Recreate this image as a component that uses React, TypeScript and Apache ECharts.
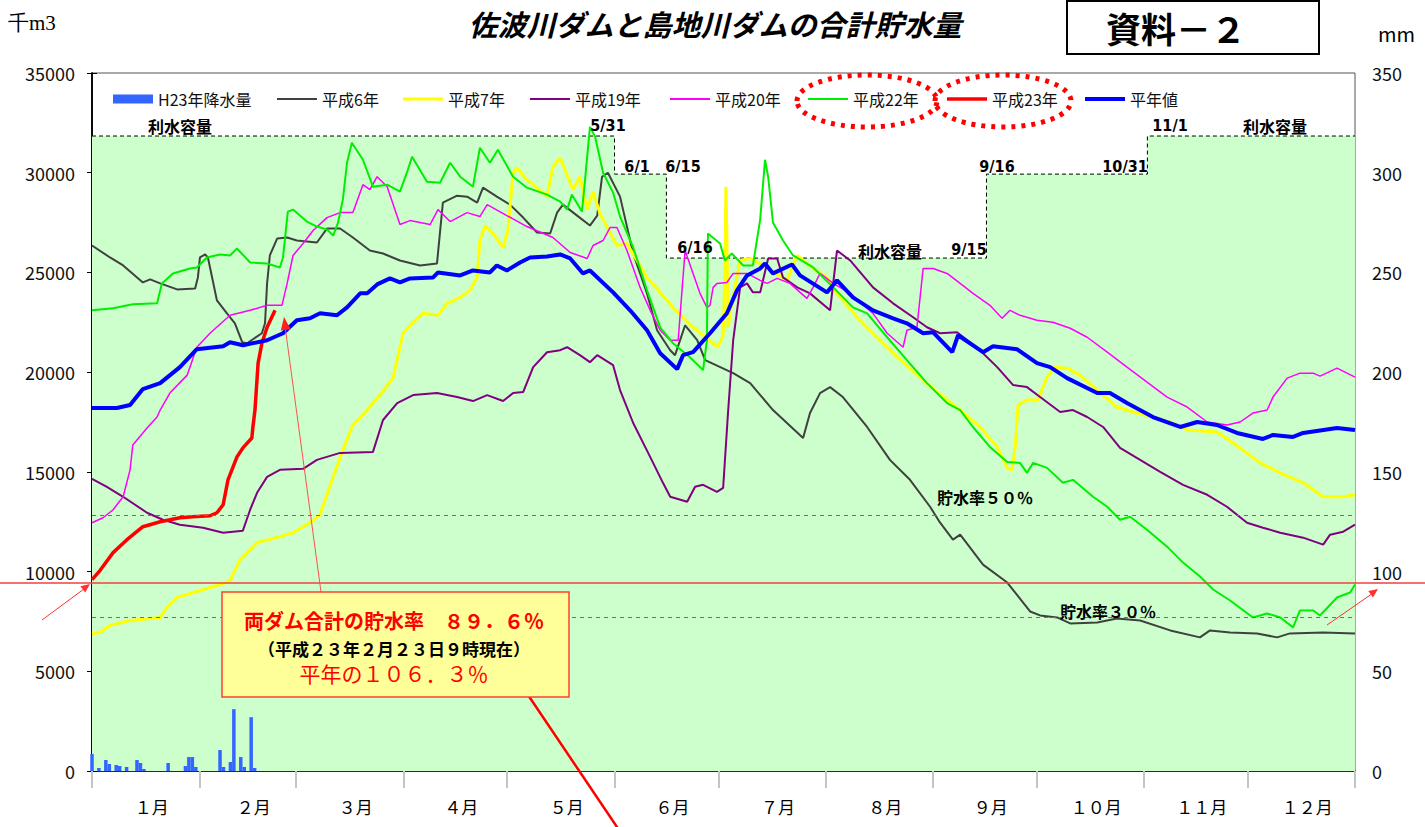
import React, { useEffect, useRef } from "react";
import * as echarts from "echarts";

// ---------- data ----------
const MONTH_LABELS = ["１月", "２月", "３月", "４月", "５月", "６月", "７月", "８月", "９月", "１０月", "１１月", "１２月"];
const MONTH_STARTS = [0, 31, 59, 90, 120, 151, 181, 212, 243, 273, 304, 334, 365];
const MONTH_MIDS = [15.5, 45, 74.5, 105, 135.5, 166, 196.5, 227.5, 258, 288.5, 319, 349.5];

// 利水容量 (千m3), step boundaries by day of year
const CAPACITY: [number, number][] = [
  [0, 31840], [151, 31840], [151, 29930], [166, 29930], [166, 25720],
  [258.5, 25720], [258.5, 29930], [305, 29930], [305, 31840], [365, 31840],
];
const RATE_50 = 12840;
const RATE_30 = 7720;
const CURRENT_LEVEL = 9430;

// H23 daily precipitation (mm), day 0 = Jan 1
const PRECIP_H23 = [
  8.5, 0, 1.5, 0, 5.5, 3.5, 0, 3, 2.5, 0, 2, 0, 0, 5.5, 4, 1, 0, 0, 0, 0,
  0, 0, 4, 0, 0, 0, 0, 2.5, 7, 7, 2, 0, 0, 0, 0, 0, 0, 10.5, 2, 0,
  4.5, 31, 0, 7, 2, 0, 27, 1.5, 0, 0, 0, 0, 0, 0,
];

const H6: [number, number][] = [
  [0, 26350], [5.2, 25750], [9, 25350], [14.7, 24500], [16.8, 24650], [19.7, 24450], [24.6, 24150], [29.8, 24200],
  [30.6, 24750], [31.2, 25750], [32.7, 25900], [33.5, 25750], [36.1, 23600], [39, 22950], [41.3, 22450], [43.4, 21500],
  [44.8, 21450], [46.5, 21650], [49.1, 21950], [50, 22450], [50.6, 24450], [51.4, 25850], [53.5, 26700], [56.4, 26750],
  [59.2, 26600], [65, 26500], [67.9, 27200], [71.7, 27200], [75.4, 26750], [80.3, 26100], [84.1, 25950], [89, 25600],
  [94.8, 25350], [99.7, 25450], [101.4, 28500], [105.5, 28850], [108.4, 28800], [111.3, 28500], [113, 29250], [117, 28800],
  [120.8, 28400], [124.6, 27750], [128.6, 27000], [132.4, 26950], [134.4, 28000], [136.1, 28400], [140.2, 27850], [143.9, 27350],
  [146, 27850], [147.4, 29800], [149.1, 30000], [152.6, 28800], [156.4, 25950], [160.4, 23950], [163.3, 22100], [167.1, 21100],
  [168.5, 20850], [171.4, 22350], [174.9, 21600], [177.2, 20600], [185.3, 19950], [190.2, 19450], [196.8, 18100], [205.5, 16700],
  [207.5, 17950], [210.4, 18950], [213.3, 19250], [217, 18750], [224, 17250], [230.6, 15600], [236.4, 14600], [242.2, 13250],
  [245.1, 12450], [248.8, 11600], [250.9, 11850], [257.5, 10350], [264.5, 9450], [271.1, 8000], [274, 7800], [278.9, 7700],
  [282.7, 7400], [290.5, 7450], [296.2, 7650], [302.9, 7550], [311.6, 7050], [320.2, 6700], [323.1, 7050], [328.9, 6950],
  [336.7, 6900], [342.5, 6700], [346.2, 6900], [355.8, 6950], [365, 6900],
];

const H7: [number, number][] = [
  [0, 6900], [2.3, 6950], [5.2, 7300], [11, 7550], [19.7, 7700], [21.7, 8200], [24.6, 8700], [30.3, 9000],
  [36.1, 9300], [39.9, 9550], [42.8, 10600], [47.7, 11450], [54.3, 11750], [58.1, 11950], [63, 12450], [65.9, 12850],
  [67.9, 13850], [69.7, 14750], [72.5, 16100], [75.4, 17350], [79.5, 18100], [83.2, 18850], [87, 19700], [89, 21250],
  [89.9, 21950], [92.8, 22500], [95.7, 22950], [100, 22850], [102.6, 23450], [106.4, 23750], [109.2, 24100], [111.3, 24750],
  [112.1, 26600], [113.6, 27350], [115.9, 26950], [118.8, 26250], [120.2, 27100], [121.7, 30000], [122.8, 30250], [125.7, 29650],
  [128.6, 29250], [131.5, 28800], [133.2, 30300], [135.3, 30750], [139, 29150], [141, 29800], [143.1, 28150], [144.8, 29050],
  [146.8, 27950], [151.7, 26350], [154.6, 26450], [160.4, 24750], [167.9, 23250], [173.7, 22250], [176.6, 21850], [180.9, 21250],
  [182.4, 21850], [182.9, 24950], [183.2, 29300], [183.5, 26650], [183.8, 22250], [184.4, 22950], [187.3, 25600], [190.2, 25700],
  [195.1, 25250], [200.9, 24600], [203.8, 25850], [208.4, 25200], [212.4, 24750], [215.3, 23950], [221.1, 22750], [225.7, 21950],
  [232.7, 20750], [240.2, 19600], [247.1, 18600], [250.9, 18100], [256.6, 17250], [261.6, 16250], [264.5, 15200], [265.9, 15100],
  [266.8, 16250], [267.6, 18350], [270.2, 18600], [273.4, 18600], [276, 19750], [278.3, 20250], [281.8, 20200], [285.5, 19850],
  [290.5, 19100], [296.2, 18250], [300.9, 18000], [306.6, 17750], [312.4, 17450], [316.5, 17100], [325.1, 17000], [329.8, 16450],
  [337.6, 15450], [343.4, 14950], [350, 14450], [355.8, 13750], [361.6, 13750], [365, 13850],
];

const H19: [number, number][] = [
  [0, 14650], [4.3, 14250], [9, 13750], [15.9, 12950], [20.5, 12600], [25.4, 12350], [32.1, 12200], [37.9, 11950],
  [43.6, 12050], [45.7, 13100], [47.7, 13950], [50.6, 14750], [54.3, 15100], [61, 15150], [65, 15600], [71.7, 15950],
  [81.2, 16000], [84.1, 17600], [88.2, 18450], [92.8, 18850], [99.7, 18950], [105.5, 18750], [110.1, 18550], [114.2, 18850],
  [118.8, 18550], [121.7, 18950], [124.6, 19000], [127.5, 20250], [131.5, 21000], [135.3, 21100], [137.3, 21250], [141, 20850],
  [143.9, 20500], [146, 20850], [150.6, 20350], [152.6, 19100], [156.4, 17450], [161.3, 15750], [165, 14450], [167.1, 13750],
  [172, 13500], [174.3, 14250], [176.6, 14350], [180.6, 14000], [182.4, 14200], [183.8, 17950], [185.3, 21600], [187.3, 24250],
  [189.3, 24450], [191, 24000], [193.1, 24000], [195.4, 25700], [198, 25700], [199.7, 24750], [203.8, 24250], [207.5, 23950],
  [213.3, 23100], [215.3, 26100], [219.1, 25600], [225.7, 24250], [231.5, 23450], [237.3, 22750], [241.3, 22250], [245.1, 21950],
  [250, 22000], [256.6, 21100], [261.6, 20250], [266.2, 19350], [270.2, 19250], [274, 18750], [279.8, 18000], [283.5, 18100],
  [287.6, 17750], [292.2, 17250], [297.1, 16200], [302.9, 15600], [308.7, 15000], [315.3, 14350], [322.3, 13850], [328, 13250],
  [333.8, 12450], [338.4, 12200], [343.4, 11950], [350, 11700], [355.8, 11350], [357.8, 11850], [361.6, 12000], [365, 12350],
];

const H20: [number, number][] = [
  [0, 12450], [3.2, 12700], [6.1, 13100], [9, 13750], [11, 15100], [11.8, 16350], [15.9, 17200], [18.8, 17750],
  [19.7, 18100], [22.5, 18950], [27.5, 19850], [30.3, 21250], [34.1, 21950], [39.9, 22850], [45.7, 23100], [50.6, 23350],
  [54.9, 23350], [56.4, 24450], [58.1, 25850], [61, 26450], [63.9, 27100], [67.9, 27750], [71.7, 28000], [75.4, 28000],
  [78.3, 29400], [80.3, 29150], [82.4, 29800], [85.3, 29300], [89, 27400], [91.9, 27600], [97.7, 27400], [100, 28150],
  [103.5, 27550], [108.4, 28000], [112.1, 27800], [114.2, 28400], [119.9, 27850], [125.7, 27300], [133.2, 26750], [138.2, 26000],
  [143.1, 25700], [144.8, 26350], [147.7, 26600], [149.7, 27250], [151.7, 27250], [154.6, 26100], [158.4, 24250], [161.3, 23100],
  [164.2, 22100], [167.1, 21600], [169.4, 21600], [171.4, 26100], [173.7, 24950], [175.7, 23950], [177.7, 23250], [178.6, 23350],
  [179.5, 24250], [180.6, 24450], [183.5, 24500], [185.3, 24950], [189.3, 24950], [193.1, 24600], [195.1, 24450], [198, 24700],
  [201.7, 24450], [206.6, 23700], [208.4, 24250], [210.4, 24950], [214.2, 24450], [219.1, 23950], [225.7, 22950], [229.8, 21950],
  [234.4, 21250], [235.5, 22100], [238.4, 22250], [240.2, 25200], [243.1, 25200], [247.1, 24950], [250.9, 24450], [254.6, 23950],
  [259.5, 23350], [263, 22700], [265.3, 23100], [268.2, 22850], [273.1, 22600], [277.7, 22500], [282.7, 22200], [287.6, 21750],
  [293.4, 21000], [299.1, 20250], [304.9, 19500], [310.7, 18750], [316.5, 18250], [322.3, 17500], [328, 17350], [331.8, 17500],
  [335.5, 17950], [339.6, 18100], [341.3, 18750], [345.4, 19700], [349.1, 19950], [352.9, 19950], [354.9, 19800], [359.8, 20200],
  [365, 19750],
];

const H22: [number, number][] = [
  [0, 23100], [6.1, 23200], [11.8, 23400], [18.8, 23450], [20.2, 24450], [23.4, 24950], [28.3, 25200], [30.3, 25250],
  [33.2, 25750], [37, 25900], [39.9, 25850], [41.9, 26200], [45.7, 25500], [50.6, 25450], [54.3, 25250], [55.2, 25750],
  [56.6, 28050], [58.1, 28150], [62.1, 27550], [65, 27300], [67.9, 27150], [69.7, 26850], [71.1, 27500], [72.5, 28650],
  [73.7, 30500], [75.1, 31500], [78.3, 30650], [81.2, 29300], [85.3, 29400], [89, 29050], [91, 30000], [92.5, 30800],
  [96.8, 29550], [100.6, 29500], [103.5, 30500], [106.4, 29800], [110.1, 29300], [112.1, 31250], [115, 30500], [117.3, 31150],
  [121.7, 29800], [125.7, 29250], [131.5, 28900], [135.3, 28550], [137.3, 28150], [138.7, 28900], [141.6, 28050], [142.5, 29650],
  [143.9, 32300], [145.4, 31800], [147.7, 30000], [150.6, 29000], [152.6, 27800], [156.4, 26250], [160.4, 24100], [164.2, 22250],
  [167.9, 21450], [172.8, 20750], [176.6, 20100], [177.7, 21600], [178, 26950], [181.5, 26450], [182.9, 25600], [184.9, 25950],
  [188.2, 25350], [191, 25350], [193.1, 27650], [194.5, 30650], [195.4, 29800], [196.8, 27500], [199.7, 26600], [202.6, 25850],
  [208.4, 25250], [214.2, 24250], [219.9, 23250], [224, 22950], [229.8, 21750], [235.5, 20600], [241.3, 19450], [247.1, 18450],
  [250.9, 18100], [254.6, 17250], [259.5, 16250], [264.5, 15500], [268.2, 15450], [270.2, 14950], [272, 15450], [276, 15200],
  [280.6, 14450], [283.5, 14600], [289.3, 13750], [293.4, 13250], [297.1, 12600], [300, 12750], [304.9, 12100], [310.7, 11250],
  [315.3, 10450], [320.2, 9750], [324, 9100], [328.9, 8550], [335.5, 7700], [339.6, 7900], [343.4, 7700], [347.1, 7200],
  [349.1, 8050], [352.9, 8050], [354.9, 7800], [359.8, 8700], [363.6, 8950], [365, 9350],
];

const H23: [number, number][] = [
  [0, 9600], [2.3, 10050], [6.1, 10950], [10.1, 11600], [14.7, 12250], [19.7, 12500], [25.4, 12700], [29.2, 12750],
  [34.1, 12800], [36.1, 12950], [37.9, 13350], [39.3, 14600], [41.9, 15750], [43.6, 16200], [46.2, 16700], [46.5, 17250],
  [47.1, 18100], [48, 20450], [49.1, 21450], [50.6, 22250], [52.9, 23100],
];

const NORMAL: [number, number][] = [
  [0, 18200], [7.2, 18200], [11, 18350], [14.7, 19150], [19.7, 19450], [25.4, 20250], [30.3, 21150], [37.9, 21300],
  [39.9, 21500], [43.6, 21350], [50.6, 21600], [55.2, 21950], [59.2, 22600], [63, 22700], [65.9, 22950], [70.8, 22850],
  [73.7, 23250], [77.5, 23950], [79.5, 23950], [82.4, 24400], [86.1, 24700], [89, 24500], [91.9, 24700], [98.6, 24750],
  [100, 25000], [106.4, 24850], [110.1, 25100], [115, 25000], [117, 25350], [119.9, 25100], [123.7, 25500], [126.6, 25750],
  [131.5, 25800], [135.3, 25900], [138.2, 25700], [141.9, 24950], [143.9, 25100], [150.6, 24000], [155.5, 23100], [160.4, 22100],
  [164.2, 20950], [169.1, 20150], [170.8, 20850], [173.7, 21000], [178.6, 21950], [183.5, 22950], [186.4, 24100], [189.3, 24850],
  [193.1, 25200], [194.5, 25450], [196.8, 24950], [202.3, 25400], [204.6, 24850], [212.4, 24000], [215.3, 24600], [219.9, 23750],
  [225.7, 23100], [231.5, 22700], [235.5, 22450], [240.2, 21950], [243.1, 22000], [248.6, 21000], [250.3, 21850], [257.5, 21000],
  [260.4, 21300], [267.3, 21150], [273.1, 20450], [276.9, 20250], [281.8, 19700], [290.5, 18950], [294.2, 18950], [299.1, 18450],
  [306.6, 17750], [314.5, 17250], [319.4, 17500], [325.1, 17350], [330.9, 16950], [338.4, 16650], [341.3, 16850], [347.1, 16750],
  [350, 16950], [359.8, 17200], [365, 17100],
];

// ---------- styling ----------
const FONT = '"Noto Sans CJK JP", "Noto Sans", sans-serif';
const NARROW = '"Liberation Sans Narrow", "DejaVu Sans Condensed", "Noto Sans CJK JP", sans-serif';

function lineSeries(name: string, data: [number, number][], color: string, width: number, z: number) {
  return {
    type: "line",
    name,
    data,
    xAxisIndex: 0,
    yAxisIndex: 0,
    symbol: "none",
    showSymbol: false,
    silent: true,
    z,
    lineStyle: { color, width },
    itemStyle: { color },
  };
}

function legendItem(name: string, left: number, itemHeight: number) {
  return {
    data: [name],
    left,
    top: 91,
    padding: 0,
    itemGap: 0,
    itemWidth: 40,
    itemHeight,
    icon: "rect",
    selectedMode: false,
    textStyle: { fontSize: 16, color: "#111", fontFamily: FONT },
  };
}

function buildOption(): any {
  return {
    animation: false,
    backgroundColor: "#ffffff",
    textStyle: { fontFamily: FONT },
    grid: {
      left: 92,
      right: 70,
      top: 73,
      bottom: 56,
      show: true,
      borderColor: "#555",
      borderWidth: 1,
      containLabel: false,
      outerBoundsMode: "none",
    },
    legend: [
      legendItem("H23年降水量", 113, 9),
      legendItem("平成6年", 277, 2),
      legendItem("平成7年", 403, 3),
      legendItem("平成19年", 530, 2),
      legendItem("平成20年", 670, 2),
      legendItem("平成22年", 808, 2),
      legendItem("平成23年", 947, 3.5),
      legendItem("平年値", 1085, 4),
    ],
    xAxis: [
      {
        type: "value",
        min: 0,
        max: 365,
        position: "bottom",
        axisLine: { show: true, lineStyle: { color: "#000", width: 1.5 } },
        axisTick: { show: true, customValues: MONTH_STARTS, length: 4, lineStyle: { color: "#000" } },
        axisLabel: { show: false },
        splitLine: { show: false },
      },
      {
        type: "value",
        min: 0,
        max: 365,
        position: "bottom",
        offset: 6,
        axisLine: { show: false },
        axisTick: { show: true, customValues: MONTH_STARTS, length: 17, lineStyle: { color: "#C4C4C4", width: 2 } },
        axisLabel: {
          show: true,
          customValues: MONTH_MIDS,
          margin: 21,
          fontSize: 17,
          color: "#000",
          fontFamily: FONT,
          padding: [0, 0, 0, 12],
          formatter: (v: number) => {
            const i = MONTH_MIDS.indexOf(v);
            return i >= 0 ? MONTH_LABELS[i] : "";
          },
        },
        splitLine: { show: false },
      },
    ],
    yAxis: [
      {
        type: "value",
        min: 0,
        max: 35000,
        interval: 5000,
        position: "left",
        axisLine: { show: true, lineStyle: { color: "#000", width: 1.5 } },
        axisTick: { show: true, inside: true, length: 5, lineStyle: { color: "#000" } },
        axisLabel: { fontSize: 18, color: "#111", margin: 17, fontFamily: FONT, formatter: (v: number) => String(v) },
        splitLine: { show: false },
      },
      {
        type: "value",
        min: 0,
        max: 350,
        interval: 50,
        position: "right",
        axisLine: { show: true, lineStyle: { color: "#000", width: 1.5 } },
        axisTick: { show: true, inside: true, length: 5, lineStyle: { color: "#000" } },
        axisLabel: { fontSize: 18, color: "#111", margin: 17, fontFamily: FONT, formatter: (v: number) => String(v) },
        splitLine: { show: false },
      },
    ],
    series: [
      {
        type: "line",
        name: "利水容量",
        data: CAPACITY,
        xAxisIndex: 0,
        yAxisIndex: 0,
        symbol: "none",
        silent: true,
        z: 1,
        lineStyle: { color: "#000", width: 1, type: [4, 3] },
        areaStyle: { color: "#CCFFCC", opacity: 1 },
        markLine: {
          silent: true,
          symbol: "none",
          label: { show: false },
          lineStyle: { color: "#9A6060", width: 1, type: [4, 4] },
          data: [{ yAxis: RATE_50 }, { yAxis: RATE_30 }],
        },
      },
      {
        type: "bar",
        name: "H23年降水量",
        data: PRECIP_H23.map((v, i) => [i, v]),
        xAxisIndex: 0,
        yAxisIndex: 1,
        barWidth: 3.5,
        silent: true,
        z: 2,
        itemStyle: { color: "#3366FF" },
      },
      lineSeries("平成6年", H6, "#404040", 2, 3),
      lineSeries("平成7年", H7, "#FFFF00", 3, 3),
      lineSeries("平成19年", H19, "#800080", 2, 3),
      lineSeries("平成20年", H20, "#FF00FF", 1.5, 3),
      lineSeries("平成22年", H22, "#00EE00", 2, 3),
      lineSeries("平成23年", H23, "#FF0000", 3.5, 4),
      lineSeries("平年値", NORMAL, "#0000FF", 4, 5),
    ],
  };
}

function text(t: string, x: number, y: number, size: number, opts: any = {}) {
  return {
    type: "text",
    x,
    y,
    z: 100,
    silent: true,
    style: {
      text: t,
      fill: opts.color || "#000",
      fontSize: size,
      fontFamily: opts.family || FONT,
      fontWeight: opts.weight || "normal",
      fontStyle: opts.style || "normal",
      textAlign: opts.align || "center",
      textVerticalAlign: "middle",
    },
  };
}

function line(x1: number, y1: number, x2: number, y2: number, stroke: string, w: number) {
  return { type: "line", z: 100, silent: true, shape: { x1, y1, x2, y2 }, style: { stroke, lineWidth: w } };
}

function arrowHead(x1: number, y1: number, x2: number, y2: number, len: number, half: number, fill: string) {
  const dx = x2 - x1;
  const dy = y2 - y1;
  const d = Math.sqrt(dx * dx + dy * dy);
  const ux = dx / d;
  const uy = dy / d;
  const bx = x2 - ux * len;
  const by = y2 - uy * len;
  return {
    type: "polygon",
    z: 101,
    silent: true,
    shape: { points: [[x2, y2], [bx - uy * half, by + ux * half], [bx + uy * half, by - ux * half]] },
    style: { fill },
  };
}

function buildGraphics(yCur: number): any[] {
  const B = { weight: "bold" };
  const D = { weight: "bold", family: NARROW };
  return [
    // header
    text("佐波川ダムと島地川ダムの合計貯水量", 715, 23, 29, { weight: "bold", style: "italic" }),
    { type: "rect", z: 99, silent: true, shape: { x: 1067, y: 1, width: 252, height: 53 }, style: { fill: "#fff", stroke: "#000", lineWidth: 2 } },
    text("資料－２", 1176, 27, 35, { weight: "bold" }),
    text("千m3", 8, 23, 21, { align: "left", family: '"Liberation Serif", "DejaVu Serif", serif' }),
    text("mm", 1378, 33, 20, { align: "left" }),
    // dotted ellipses in legend
    { type: "ellipse", z: 100, silent: true, shape: { cx: 867, cy: 101, rx: 70, ry: 26 }, style: { fill: "transparent", stroke: "#FF0000", lineWidth: 5, lineDash: [4, 6] } },
    { type: "ellipse", z: 100, silent: true, shape: { cx: 1003, cy: 101, rx: 68, ry: 26 }, style: { fill: "transparent", stroke: "#FF0000", lineWidth: 5, lineDash: [4, 6] } },
    // 利水容量 labels
    text("利水容量", 180, 126, 16, B),
    text("5/31", 608, 125, 16, D),
    text("6/1", 637, 166, 16, D),
    text("6/15", 683, 166, 16, D),
    text("6/16", 695, 247, 16, D),
    text("利水容量", 890, 251, 16, B),
    text("9/15", 969, 249, 16, D),
    text("9/16", 997, 166, 16, D),
    text("10/31", 1125, 166, 16, D),
    text("11/1", 1170, 125, 16, D),
    text("利水容量", 1275, 126, 16, B),
    // storage-rate labels
    text("貯水率５０％", 937, 497, 16, { weight: "bold", align: "left" }),
    text("貯水率３０％", 1060, 611, 16, { weight: "bold", align: "left" }),
    // current level line across the page
    line(0, yCur, 1425, yCur, "#F04040", 1.5),
    line(42, 620, 88, 586, "#FF3030", 1),
    arrowHead(42, 620, 90, 584, 9, 4, "#FF3030"),
    line(1327, 625, 1376, 591, "#FF3030", 1),
    arrowHead(1327, 625, 1378, 589, 9, 4, "#FF3030"),
    // annotation
    line(321, 592, 285, 326, "#FF5050", 1),
    arrowHead(321, 592, 284, 317, 13, 5, "#FF2020"),
    line(522, 686, 619, 830, "#FF0000", 2.5),
    { type: "rect", z: 100, silent: true, shape: { x: 222, y: 592, width: 347, height: 105 }, style: { fill: "#FFFF99", stroke: "#FF4030", lineWidth: 1.5 } },
    text("両ダム合計の貯水率　８９．６％", 394, 620, 20, { weight: "bold", color: "#FF0000" }),
    text("（平成２３年２月２３日９時現在）", 394, 648, 17, { weight: "bold", color: "#000" }),
    text("平年の１０６．３％", 394, 673, 21, { color: "#FF0000" }),
  ];
}

export default function App() {
  const ref = useRef<HTMLDivElement>(null);
  useEffect(() => {
    const el = ref.current;
    if (!el) return;
    const chart = echarts.init(el, null, { renderer: "svg" });
    chart.setOption(buildOption());
    const yCur = chart.convertToPixel({ yAxisIndex: 0 } as any, CURRENT_LEVEL) as unknown as number;
    chart.setOption({ graphic: { elements: buildGraphics(yCur) } });
    return () => chart.dispose();
  }, []);
  return (
    <div
      ref={ref}
      style={{ position: "fixed", left: 0, top: 0, width: 1425, height: 827, background: "#fff" }}
    />
  );
}
